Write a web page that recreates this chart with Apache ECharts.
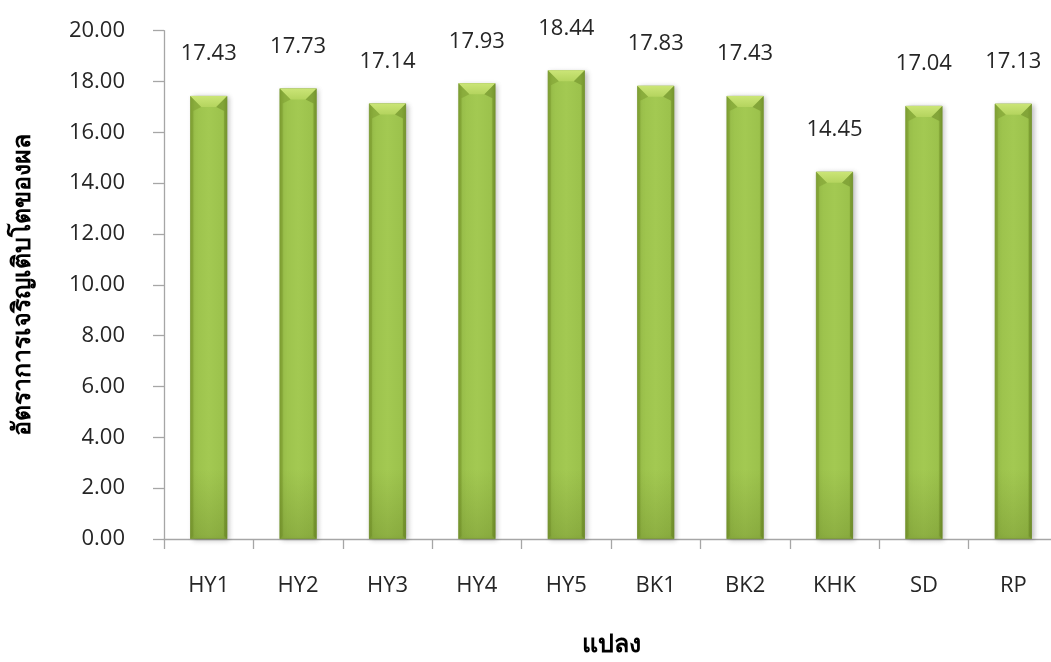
<!DOCTYPE html>
<html>
<head>
<meta charset="utf-8">
<style>
  html, body { margin: 0; padding: 0; background: #fff; }
  #chart { width: 1051px; height: 662px; }
</style>
<script src="https://cdn.jsdelivr.net/npm/echarts@6/dist/echarts.min.js"></script>
</head>
<body>
<div id="chart"></div>
<script>
// Plots and their fruit growth rates
const categories = ['HY1', 'HY2', 'HY3', 'HY4', 'HY5', 'BK1', 'BK2', 'KHK', 'SD', 'RP'];
const growthRates = [17.43, 17.73, 17.14, 17.93, 18.44, 17.83, 17.43, 14.45, 17.04, 17.13];
const yTicks = { min: 0, max: 20, interval: 2 };
const yTitle = 'อัตราการเจริญเติบโตของผล';
const xTitle = 'แปลง';

const numFont = '"Open Sans", "Noto Sans", sans-serif';
const thaiFont = '"Liberation Serif", "DejaVu Serif", serif';
const axisGray = '#a6a6a6';
const textColor = '#262626';

const chart = echarts.init(document.getElementById('chart'));

// green bar body: darker edges, lighter middle
const bodyFill = new echarts.graphic.LinearGradient(0, 0, 1, 0, [
  { offset: 0, color: '#86a938' },
  { offset: 0.12, color: '#9cc24c' },
  { offset: 0.5, color: '#a3c952' },
  { offset: 0.88, color: '#9cc24c' },
  { offset: 1, color: '#84a636' }
]);

// bevel highlights drawn on top of each bar
function bevelItem(params, api) {
  const top = api.coord([api.value(0), api.value(1)]);
  const base = api.coord([api.value(0), 0]);
  const w = 37;
  const x0 = top[0] - w / 2, x1 = top[0] + w / 2;
  const y0 = top[1], y1 = base[1];
  const b = 11, s = 3;
  return {
    type: 'group',
    silent: true,
    children: [
      { // top face
        type: 'polygon',
        shape: { points: [[x0, y0], [x1, y0], [x1 - b, y0 + b], [x0 + b, y0 + b]] },
        style: {
          fill: new echarts.graphic.LinearGradient(0, 0, 0, 1, [
            { offset: 0, color: '#cbe577' },
            { offset: 1, color: '#b4d45e' }
          ])
        }
      },
      { // left side face
        type: 'polygon',
        shape: { points: [[x0, y0], [x0 + b, y0 + b], [x0 + s, y0 + b + 4], [x0 + s, y1 - s], [x0, y1]] },
        style: { fill: 'rgba(120,150,45,0.45)' }
      },
      { // right side face
        type: 'polygon',
        shape: { points: [[x1, y0], [x1 - b, y0 + b], [x1 - s, y0 + b + 4], [x1 - s, y1 - s], [x1, y1]] },
        style: { fill: 'rgba(105,135,38,0.5)' }
      },
      { // bottom shading
        type: 'rect',
        shape: { x: x0, y: y1 - 70, width: w, height: 70 },
        style: {
          fill: new echarts.graphic.LinearGradient(0, 0, 0, 1, [
            { offset: 0, color: 'rgba(90,115,30,0)' },
            { offset: 1, color: 'rgba(90,115,30,0.3)' }
          ])
        }
      }
    ]
  };
}

chart.setOption({
  animation: false,
  backgroundColor: '#ffffff',
  grid: {
    left: 164, right: -7, top: 30.7, bottom: 123,
    containLabel: false,
    outerBoundsMode: 'none'
  },
  xAxis: {
    type: 'category',
    data: categories,
    name: xTitle,
    nameLocation: 'middle',
    nameGap: 94,
    nameTextStyle: { fontFamily: thaiFont, fontWeight: 'bold', fontSize: 25, color: '#000' },
    axisLine: { lineStyle: { color: axisGray, width: 1.3 } },
    axisTick: { show: true, length: 10, lineStyle: { color: axisGray, width: 1.3 } },
    axisLabel: { margin: 36, fontFamily: numFont, fontSize: 22, color: textColor }
  },
  yAxis: {
    type: 'value',
    min: yTicks.min,
    max: yTicks.max,
    interval: yTicks.interval,
    name: yTitle,
    nameLocation: 'middle',
    nameRotate: 90,
    nameGap: 128,
    nameTextStyle: { fontFamily: thaiFont, fontWeight: 'bold', fontSize: 25, color: '#000' },
    axisLine: { show: true, lineStyle: { color: axisGray, width: 1.3 } },
    axisTick: { show: true, length: 11, lineStyle: { color: axisGray, width: 1.3 } },
    splitLine: { show: false },
    axisLabel: {
      margin: 39,
      fontFamily: numFont,
      fontSize: 22,
      color: textColor,
      formatter: v => v.toFixed(2)
    }
  },
  series: [
    {
      type: 'bar',
      data: growthRates,
      barWidth: 37,
      itemStyle: {
        color: bodyFill,
        borderColor: '#789a30',
        borderWidth: 0.6,
        shadowColor: 'rgba(0,0,0,0.25)',
        shadowBlur: 5,
        shadowOffsetX: 2,
        shadowOffsetY: 1
      },
      label: {
        show: true,
        position: 'top',
        distance: 31,
        fontFamily: numFont,
        fontSize: 22,
        color: textColor,
        formatter: p => p.value.toFixed(2)
      }
    },
    {
      type: 'custom',
      renderItem: bevelItem,
      data: growthRates.map((v, i) => [i, v]),
      encode: { x: 0, y: 1 },
      silent: true,
      z: 3
    }
  ]
});
</script>
</body>
</html>
